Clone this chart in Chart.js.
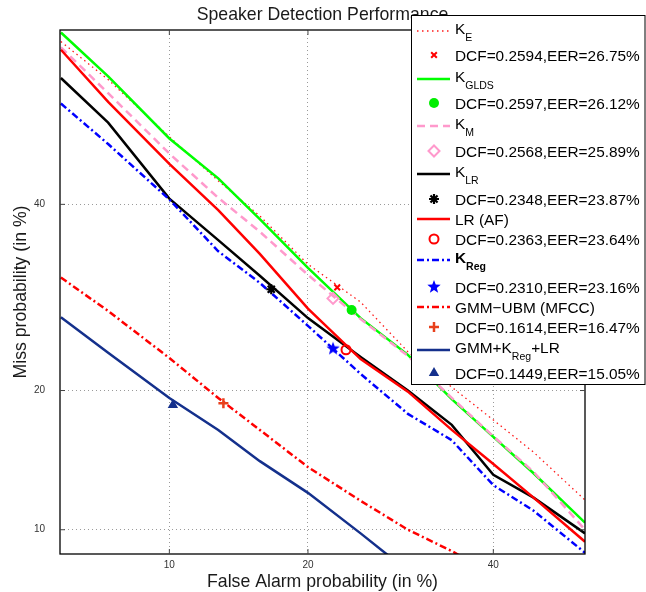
<!DOCTYPE html>
<html>
<head>
<meta charset="utf-8">
<title>Speaker Detection Performance</title>
<script src="https://cdn.jsdelivr.net/npm/chart.js@4.4.1/dist/chart.umd.min.js"></script>
<style>
  html, body { margin: 0; padding: 0; background: #fff; }
  #wrap { width: 646px; height: 592px; }
</style>
</head>
<body>
<div id="wrap"><canvas id="detChart" width="646" height="592"></canvas></div>
<script>
// DET curves, false alarm and miss rates in %
const faPct    = [5.2, 7, 10, 13, 16, 20, 25, 30, 35, 40, 45, 51.5];
const missKE   = [60.3, 55.6, 48.4, 42.9, 38.6, 32.9, 28.7, 23.6, 20.3, 17.5, 15.0, 11.75];
const missGLDS = [61.4, 56.0, 48.2, 43.2, 38.2, 32.5, 27.0, 23.3, 19.25, 16.15, 13.5, 10.4];
const missKM   = [59.6, 53.9, 46.3, 40.8, 36.7, 31.7, 26.9, 23.2, 19.35, 16.2, 13.6, 10.0];
const missKLR  = [55.8, 50.2, 40.7, 35.7, 31.6, 27.0, 23.1, 20.0, 17.1, 13.4, 11.9, 9.8];
const missLRAF = [59.3, 52.8, 45.0, 39.3, 34.1, 28.0, 22.9, 19.9, 16.7, 14.15, 11.9, 9.35];
const missKReg = [52.6, 47.5, 40.6, 34.4, 30.8, 26.2, 21.5, 18.0, 15.9, 12.7, 11.1, 8.78];
const faGMM    = [5.2, 7, 10, 13, 16, 20, 25, 30, 35, 36.5];
const missGMM  = [31.4, 27.75, 23.0, 19.35, 16.7, 13.93, 11.7, 10.0, 8.87, 8.5];
const faFused  = [5.2, 7, 10, 13, 16, 20, 25, 28];
const missFused = [27.1, 23.5, 19.35, 16.7, 14.35, 12.2, 9.8, 8.6];

// min DCF operating points (one per system)
const dcfFa   = [22.7, 24.1, 22.3, 16.9, 23.55, 22.3, 13.35, 10.2];
const dcfMiss = [30.3, 27.85, 29.1, 30.1, 23.8, 23.9, 18.9, 18.75];
const dcfText = [
    'DCF=0.2594,EER=26.75%', 'DCF=0.2597,EER=26.12%', 'DCF=0.2568,EER=25.89%',
    'DCF=0.2348,EER=23.87%', 'DCF=0.2363,EER=23.64%', 'DCF=0.2310,EER=23.16%',
    'DCF=0.1614,EER=16.47%', 'DCF=0.1449,EER=15.05%'
];
// legend names: main text, subscript, trailing text
const seriesNames = [
    ['K', 'E', ''], ['K', 'GLDS', ''], ['K', 'M', ''], ['K', 'LR', ''],
    ['LR (AF)', '', ''], ['K', 'Reg', ''], ['GMM\u2212UBM (MFCC)', '', ''], ['GMM+K', 'Reg', '+LR']
];
const tickPct = [10, 20, 40];
const xLimPct = [5.17, 51.5];
const yLimPct = [8.72, 61.7];

const FONT = 'Liberation Sans, Arial, Helvetica, sans-serif';
Chart.defaults.font.family = FONT;

// inverse normal cdf (Acklam)
function probit(p) {
    const a = [-39.69683028665376, 220.9460984245205, -275.9285104469687, 138.3577518672690, -30.66479806614716, 2.506628277459239];
    const b = [-54.47609879822406, 161.5858368580409, -155.6989798598866, 66.80131188771972, -13.28068155288572];
    const c = [-0.007784894002430293, -0.3223964580411365, -2.400758277161838, -2.549732539343734, 4.374664141464968, 2.938163982698783];
    const d = [0.007784695709041462, 0.3224671290700398, 2.445134137142996, 3.754408661907416];
    const lo = 0.02425;
    let q, r;
    if (p < lo) {
        q = Math.sqrt(-2 * Math.log(p));
        return (((((c[0]*q+c[1])*q+c[2])*q+c[3])*q+c[4])*q+c[5]) / ((((d[0]*q+d[1])*q+d[2])*q+d[3])*q+1);
    }
    if (p <= 1 - lo) {
        q = p - 0.5; r = q * q;
        return (((((a[0]*r+a[1])*r+a[2])*r+a[3])*r+a[4])*r+a[5])*q / (((((b[0]*r+b[1])*r+b[2])*r+b[3])*r+b[4])*r+1);
    }
    q = Math.sqrt(-2 * Math.log(1 - p));
    return -(((((c[0]*q+c[1])*q+c[2])*q+c[3])*q+c[4])*q+c[5]) / ((((d[0]*q+d[1])*q+d[2])*q+d[3])*q+1);
}
const toXY = (fa, miss) => fa.map((f, i) => ({ x: probit(f / 100), y: probit(miss[i] / 100) }));

// filled pentagram for the K_Reg marker
function makeStar(color, r) {
    const c = document.createElement('canvas');
    const s = Math.ceil(r * 2 + 2);
    c.width = s; c.height = s;
    const g = c.getContext('2d');
    g.fillStyle = color;
    g.beginPath();
    for (let k = 0; k < 10; k++) {
        const rad = k % 2 ? r * 0.42 : r;
        const ang = -Math.PI / 2 + k * Math.PI / 5;
        g.lineTo(s / 2 + rad * Math.cos(ang), s / 2 + rad * Math.sin(ang));
    }
    g.closePath();
    g.fill();
    return c;
}

const curves = [
    { fa: faPct, miss: missKE },
    { fa: faPct, miss: missGLDS },
    { fa: faPct, miss: missKM },
    { fa: faPct, miss: missKLR },
    { fa: faPct, miss: missLRAF },
    { fa: faPct, miss: missKReg },
    { fa: faGMM, miss: missGMM },
    { fa: faFused, miss: missFused },
];
const lineStyles = [
    { color: '#ff1a1a', width: 1.3, dash: [1.5, 3.5] },
    { color: '#00ff00', width: 2.5, dash: [] },
    { color: '#ff99cc', width: 2.5, dash: [8, 5] },
    { color: '#000000', width: 2.5, dash: [] },
    { color: '#ff0000', width: 2.5, dash: [] },
    { color: '#0000ff', width: 2.5, dash: [7, 3, 2, 3] },
    { color: '#ff0000', width: 2.5, dash: [7, 3, 2, 3] },
    { color: '#14308c', width: 2.5, dash: [] },
];
const markStyles = [
    { style: 'crossRot', r: 4, w: 2, stroke: '#ff0000', fill: '#ff0000' },
    { style: 'circle', r: 5, w: 0, stroke: '#00ee00', fill: '#00ee00' },
    { style: 'rectRot', r: 5.5, w: 2, stroke: '#ff99cc', fill: 'rgba(0,0,0,0)' },
    { style: 'star', r: 5, w: 2.2, stroke: '#000000', fill: '#000000' },
    { style: 'circle', r: 4.5, w: 2, stroke: '#ff0000', fill: 'rgba(0,0,0,0)' },
    { style: makeStar('#0000ff', 7), r: 7, w: 0, stroke: '#0000ff', fill: '#0000ff' },
    { style: 'cross', r: 5, w: 2.5, stroke: '#e8401c', fill: '#e8401c' },
    { style: 'triangle', r: 6, w: 0, stroke: '#14308c', fill: '#14308c' },
];

const datasets = [];
curves.forEach((cv, k) => {
    const ls = lineStyles[k];
    datasets.push({
        data: toXY(cv.fa, cv.miss),
        showLine: true,
        borderColor: ls.color,
        borderWidth: ls.width,
        borderDash: ls.dash,
        pointRadius: 0,
        tension: 0,
        clip: 0,
        order: 100 - k,
    });
    const ms = markStyles[k];
    datasets.push({
        data: toXY([dcfFa[k]], [dcfMiss[k]]),
        showLine: false,
        pointStyle: ms.style,
        pointRadius: ms.r,
        pointBorderWidth: ms.w,
        pointBorderColor: ms.stroke,
        pointBackgroundColor: ms.fill,
        clip: false,
        order: 20 - k,
    });
});

// layout of the legend box (pixels)
const legendBox = { left: 411.5, top: 15.5, right: 645, bottom: 384.5 };
const lineRowY = [31, 79, 126, 174, 219, 260, 307, 350];
const markRowY = [55, 103, 151, 199, 239, 287, 327, 373];

function drawMarker(ctx, ms, x, y) {
    ctx.save();
    ctx.strokeStyle = ms.stroke;
    ctx.fillStyle = ms.fill;
    ctx.lineWidth = ms.w;
    ctx.setLineDash([]);
    Chart.helpers.drawPoint(ctx, { pointStyle: ms.style, radius: ms.r, rotation: 0, borderWidth: ms.w }, x, y);
    ctx.restore();
}

const pagePlugin = {
    id: 'page',
    beforeDraw(chart) {
        const ctx = chart.ctx;
        ctx.save();
        ctx.fillStyle = '#fff';
        ctx.fillRect(0, 0, chart.width, chart.height);
        ctx.restore();
    },
    afterDatasetsDraw(chart) {
        const { ctx, chartArea: a, scales } = chart;
        ctx.save();
        ctx.strokeStyle = '#000';
        ctx.lineWidth = 1.3;
        ctx.strokeRect(a.left, a.top, a.right - a.left, a.bottom - a.top);
        ctx.strokeStyle = '#444';
        ctx.lineWidth = 1;
        ctx.beginPath();
        tickPct.forEach(v => {
            const px = scales.x.getPixelForValue(probit(v / 100));
            ctx.moveTo(px, a.bottom); ctx.lineTo(px, a.bottom - 5);
            ctx.moveTo(px, a.top); ctx.lineTo(px, a.top + 5);
            const py = scales.y.getPixelForValue(probit(v / 100));
            ctx.moveTo(a.left, py); ctx.lineTo(a.left + 5, py);
            ctx.moveTo(a.right, py); ctx.lineTo(a.right - 5, py);
        });
        ctx.stroke();
        ctx.restore();
    },
    afterDraw(chart) {
        const ctx = chart.ctx;
        const a = chart.chartArea;
        const mid = (a.left + a.right) / 2;
        ctx.save();
        ctx.fillStyle = '#1a1a1a';
        ctx.font = '17.7px ' + FONT;
        ctx.textAlign = 'center';
        ctx.textBaseline = 'alphabetic';
        ctx.fillText('Speaker Detection Performance', mid, 20);
        ctx.fillText('False Alarm probability (in %)', mid, 586.5);
        ctx.save();
        ctx.translate(25.5, (a.top + a.bottom) / 2);
        ctx.rotate(-Math.PI / 2);
        ctx.fillText('Miss probability (in %)', 0, 0);
        ctx.restore();

        // legend
        const b = legendBox;
        ctx.fillStyle = '#fff';
        ctx.fillRect(b.left, b.top, b.right - b.left, b.bottom - b.top);
        ctx.strokeStyle = '#000';
        ctx.lineWidth = 1;
        ctx.strokeRect(b.left, b.top, b.right - b.left, b.bottom - b.top);
        ctx.textAlign = 'left';
        const tx = 455;
        seriesNames.forEach((nm, k) => {
            const ls = lineStyles[k];
            const ly = lineRowY[k];
            ctx.save();
            ctx.strokeStyle = ls.color;
            ctx.lineWidth = ls.width;
            ctx.setLineDash(ls.dash);
            ctx.beginPath();
            ctx.moveTo(417, ly); ctx.lineTo(450, ly);
            ctx.stroke();
            ctx.restore();

            const bold = k === 5 ? 'bold ' : '';
            ctx.fillStyle = '#000';
            if (nm[1]) {
                const base = ly + 2.5;
                ctx.font = bold + '15.4px ' + FONT;
                ctx.fillText(nm[0], tx, base);
                let x = tx + ctx.measureText(nm[0]).width;
                ctx.font = bold + '10.5px ' + FONT;
                ctx.fillText(nm[1], x, base + 7);
                x += ctx.measureText(nm[1]).width;
                if (nm[2]) {
                    ctx.font = '15.4px ' + FONT;
                    ctx.fillText(nm[2], x, base);
                }
            } else {
                ctx.font = '15.4px ' + FONT;
                ctx.fillText(nm[0], tx, ly + 5.5);
            }

            const my = markRowY[k];
            drawMarker(ctx, markStyles[k], 434, my);
            ctx.fillStyle = '#000';
            ctx.font = '15.4px ' + FONT;
            ctx.fillText(dcfText[k], tx, my + 5.5);
        });
        ctx.restore();
    }
};

const axisTicks = (axis) => { axis.ticks = tickPct.map(v => ({ value: probit(v / 100) })); };

const detChart = new Chart(document.getElementById('detChart').getContext('2d'), {
    type: 'scatter',
    data: { datasets: datasets },
    options: {
        responsive: false,
        animation: false,
        events: [],
        layout: { padding: { top: 30, right: 61, left: 0, bottom: 0 } },
        plugins: {
            legend: { display: false },
            title: { display: false },
            tooltip: { enabled: false },
        },
        scales: {
            x: {
                type: 'linear',
                min: probit(xLimPct[0] / 100),
                max: probit(xLimPct[1] / 100),
                afterBuildTicks: axisTicks,
                afterFit: (axis) => { axis.height = 38; },
                ticks: {
                    callback: (v, i) => String(tickPct[i]),
                    font: { size: 10 },
                    color: '#333',
                    padding: 5,
                    maxRotation: 0,
                    autoSkip: false,
                },
                grid: { color: '#9a9a9a', lineWidth: 1, drawTicks: false },
                border: { display: false, dash: [1, 3] },
            },
            y: {
                type: 'linear',
                min: probit(yLimPct[0] / 100),
                max: probit(yLimPct[1] / 100),
                afterBuildTicks: axisTicks,
                afterFit: (axis) => { axis.width = 60; },
                ticks: {
                    callback: (v, i) => String(tickPct[i]),
                    font: { size: 10 },
                    color: '#333',
                    padding: 15,
                    autoSkip: false,
                },
                grid: { color: '#9a9a9a', lineWidth: 1, drawTicks: false },
                border: { display: false, dash: [1, 3] },
            },
        },
    },
    plugins: [pagePlugin],
});
</script>
</body>
</html>
